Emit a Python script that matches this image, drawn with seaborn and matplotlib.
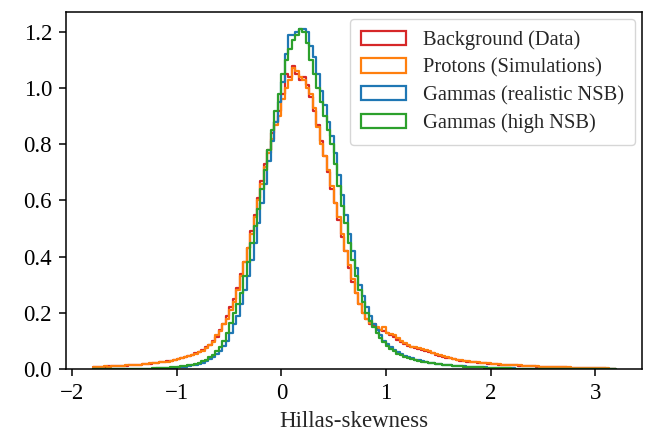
import numpy as np
import pandas as pd
import matplotlib
matplotlib.use("Agg")
import matplotlib.pyplot as plt
import matplotlib.patches as mpatches
import seaborn as sns

# ---- data: bin heights (density) of Hillas-skewness, 150 bins from -1.8 to 3.2 ----
bin_lo, bin_hi, n_bins = -1.8, 3.2, 150

background = [
    0.007, 0.008, 0.009, 0.009, 0.010, 0.010, 0.011, 0.011, 0.012, 0.012,
    0.013, 0.014, 0.015, 0.016, 0.017, 0.018, 0.019, 0.021, 0.022, 0.024,
    0.026, 0.028, 0.030, 0.033, 0.035, 0.039, 0.043, 0.047, 0.051, 0.056,
    0.062, 0.068, 0.077, 0.087, 0.100, 0.115, 0.140, 0.160, 0.190, 0.220,
    0.250, 0.290, 0.340, 0.380, 0.430, 0.490, 0.550, 0.610, 0.670, 0.730,
    0.780, 0.840, 0.880, 0.920, 0.980, 1.050, 1.040, 1.080, 1.050, 1.030,
    1.040, 1.010, 0.970, 0.920, 0.870, 0.810, 0.760, 0.700, 0.640, 0.590,
    0.530, 0.470, 0.420, 0.360, 0.310, 0.270, 0.230, 0.200, 0.180, 0.160,
    0.155, 0.145, 0.140, 0.135, 0.130, 0.120, 0.115, 0.105, 0.098, 0.090,
    0.083, 0.078, 0.074, 0.071, 0.067, 0.064, 0.060, 0.056, 0.052, 0.048,
    0.044, 0.041, 0.038, 0.035, 0.032, 0.030, 0.029, 0.027, 0.025, 0.024,
    0.023, 0.021, 0.020, 0.019, 0.018, 0.017, 0.016, 0.015, 0.015, 0.014,
    0.013, 0.013, 0.012, 0.011, 0.011, 0.010, 0.010, 0.009, 0.009, 0.008,
    0.008, 0.007, 0.007, 0.007, 0.006, 0.006, 0.005, 0.005, 0.005, 0.004,
    0.004, 0.004, 0.004, 0.003, 0.003, 0.003, 0.003, 0.002, 0.002, 0.002,
]

protons = [
    0.008, 0.009, 0.008, 0.010, 0.009, 0.011, 0.010, 0.012, 0.011, 0.013,
    0.013, 0.014, 0.015, 0.016, 0.017, 0.018, 0.020, 0.021, 0.023, 0.024,
    0.026, 0.027, 0.030, 0.033, 0.036, 0.038, 0.042, 0.046, 0.050, 0.055,
    0.060, 0.066, 0.075, 0.085, 0.097, 0.120, 0.135, 0.160, 0.180, 0.210,
    0.240, 0.280, 0.330, 0.380, 0.430, 0.480, 0.540, 0.600, 0.660, 0.720,
    0.770, 0.820, 0.870, 0.900, 0.960, 1.000, 1.030, 1.070, 1.060, 1.040,
    1.030, 1.000, 0.980, 0.930, 0.860, 0.800, 0.760, 0.710, 0.650, 0.590,
    0.540, 0.480, 0.420, 0.370, 0.320, 0.270, 0.230, 0.200, 0.180, 0.165,
    0.160, 0.150, 0.140, 0.150, 0.130, 0.125, 0.120, 0.110, 0.100, 0.092,
    0.085, 0.080, 0.077, 0.074, 0.070, 0.068, 0.063, 0.058, 0.054, 0.050,
    0.046, 0.042, 0.038, 0.035, 0.033, 0.031, 0.030, 0.028, 0.027, 0.025,
    0.024, 0.022, 0.021, 0.020, 0.019, 0.018, 0.017, 0.016, 0.016, 0.015,
    0.014, 0.013, 0.013, 0.012, 0.011, 0.011, 0.010, 0.010, 0.009, 0.009,
    0.008, 0.008, 0.007, 0.007, 0.007, 0.006, 0.006, 0.005, 0.005, 0.005,
    0.005, 0.004, 0.004, 0.004, 0.003, 0.003, 0.003, 0.003, 0.002, 0.002,
]

gammas_realistic = [
    0.000, 0.000, 0.000, 0.000, 0.000, 0.000, 0.000, 0.001, 0.000, 0.001,
    0.001, 0.001, 0.001, 0.001, 0.001, 0.002, 0.002, 0.002, 0.003, 0.003,
    0.003, 0.004, 0.005, 0.005, 0.006, 0.008, 0.009, 0.011, 0.013, 0.016,
    0.019, 0.023, 0.028, 0.035, 0.043, 0.053, 0.066, 0.082, 0.100, 0.130,
    0.160, 0.190, 0.230, 0.280, 0.330, 0.390, 0.450, 0.520, 0.590, 0.660,
    0.740, 0.810, 0.880, 0.950, 1.020, 1.120, 1.190, 1.190, 1.200, 1.210,
    1.210, 1.200, 1.150, 1.110, 1.050, 0.990, 0.940, 0.880, 0.830, 0.770,
    0.690, 0.620, 0.550, 0.480, 0.420, 0.360, 0.300, 0.260, 0.220, 0.190,
    0.160, 0.140, 0.120, 0.100, 0.088, 0.077, 0.068, 0.060, 0.053, 0.047,
    0.042, 0.038, 0.034, 0.031, 0.028, 0.025, 0.023, 0.021, 0.019, 0.017,
    0.016, 0.015, 0.013, 0.012, 0.011, 0.010, 0.010, 0.009, 0.008, 0.007,
    0.007, 0.006, 0.006, 0.005, 0.005, 0.004, 0.004, 0.003, 0.003, 0.003,
    0.003, 0.002, 0.002, 0.002, 0.002, 0.001, 0.001, 0.001, 0.001, 0.001,
    0.001, 0.001, 0.000, 0.001, 0.000, 0.000, 0.000, 0.000, 0.000, 0.000,
    0.000, 0.000, 0.000, 0.000, 0.000, 0.000, 0.000, 0.000, 0.000, 0.000,
]

gammas_high = [
    0.000, 0.000, 0.000, 0.000, 0.000, 0.000, 0.001, 0.000, 0.001, 0.001,
    0.001, 0.001, 0.001, 0.002, 0.001, 0.002, 0.002, 0.003, 0.003, 0.004,
    0.004, 0.005, 0.006, 0.007, 0.008, 0.010, 0.011, 0.013, 0.016, 0.019,
    0.023, 0.028, 0.034, 0.042, 0.050, 0.065, 0.080, 0.100, 0.130, 0.165,
    0.200, 0.230, 0.270, 0.330, 0.380, 0.450, 0.510, 0.570, 0.640, 0.710,
    0.780, 0.850, 0.920, 0.980, 1.050, 1.100, 1.140, 1.170, 1.190, 1.210,
    1.200, 1.160, 1.100, 1.050, 1.000, 0.950, 0.900, 0.850, 0.800, 0.730,
    0.650, 0.580, 0.520, 0.450, 0.390, 0.330, 0.280, 0.240, 0.200, 0.170,
    0.150, 0.130, 0.110, 0.095, 0.082, 0.072, 0.063, 0.055, 0.049, 0.044,
    0.039, 0.035, 0.032, 0.029, 0.026, 0.024, 0.022, 0.020, 0.018, 0.017,
    0.015, 0.014, 0.013, 0.012, 0.011, 0.010, 0.009, 0.008, 0.008, 0.007,
    0.006, 0.006, 0.005, 0.005, 0.004, 0.004, 0.004, 0.003, 0.003, 0.003,
    0.002, 0.002, 0.002, 0.002, 0.001, 0.001, 0.001, 0.001, 0.001, 0.001,
    0.001, 0.000, 0.001, 0.000, 0.000, 0.000, 0.000, 0.000, 0.000, 0.000,
    0.000, 0.000, 0.000, 0.000, 0.000, 0.000, 0.000, 0.000, 0.000, 0.000,
]

series_names = [
    "Background (Data)",
    "Protons (Simulations)",
    "Gammas (realistic NSB)",
    "Gammas (high NSB)",
]
series_values = [background, protons, gammas_realistic, gammas_high]
series_colors = ["#d62728", "#ff7f0e", "#1f77b4", "#2ca02c"]
x_label = "Hillas-skewness"
y_ticks = [0.0, 0.2, 0.4, 0.6, 0.8, 1.0, 1.2]
x_ticks = [-2, -1, 0, 1, 2, 3]

# ---- build table ----
edges = np.linspace(bin_lo, bin_hi, n_bins + 1)
centers = 0.5 * (edges[:-1] + edges[1:])

# ---- style ----
sns.set_theme(style="ticks")
plt.rcParams.update({
    "font.family": ["Liberation Serif", "DejaVu Serif"],
    "mathtext.fontset": "stix",
    "axes.edgecolor": "black",
    "axes.linewidth": 1.1,
    "xtick.color": "black",
    "ytick.color": "black",
    "xtick.direction": "out",
    "ytick.direction": "out",
    "xtick.major.size": 5,
    "ytick.major.size": 5,
    "xtick.major.width": 1.1,
    "ytick.major.width": 1.1,
    "xtick.major.pad": 5,
    "ytick.major.pad": 5,
})

fig = plt.figure(figsize=(6.5, 4.41), dpi=100)
ax = fig.add_axes([0.1015, 0.163, 0.8865, 0.81])

handles = []
for name, vals, col in zip(series_names, series_values, series_colors):
    d = pd.DataFrame({"x": centers, "h": vals})
    sns.histplot(
        data=d, x="x", weights="h",
        bins=n_bins, binrange=(bin_lo, bin_hi), stat="count",
        element="step", fill=False, color=col,
        linewidth=1.6, ax=ax,
    )
    handles.append(mpatches.Patch(facecolor="none", edgecolor=col,
                                  linewidth=1.6, label=name))

ax.set_xlim(-2.06, 3.45)
ax.set_ylim(0, 1.271)
ax.set_xticks(x_ticks)
ax.set_yticks(y_ticks)
ax.set_yticklabels([f"{v:.1f}" for v in y_ticks])
ax.set_xticklabels([str(v).replace("-", "\u2212") for v in x_ticks])
ax.tick_params(labelsize=16.5)
ax.set_xlabel(x_label, fontsize=16.5, labelpad=5)
ax.set_ylabel("")
for s in ax.spines.values():
    s.set_visible(True)

ax.legend(handles=handles, loc="upper right", fontsize=14.8, frameon=True,
          edgecolor="0.8", framealpha=0.8, labelspacing=0.4,
          borderpad=0.55, handlelength=2.2, borderaxespad=0.35)

fig.savefig("out.png", dpi=100)
